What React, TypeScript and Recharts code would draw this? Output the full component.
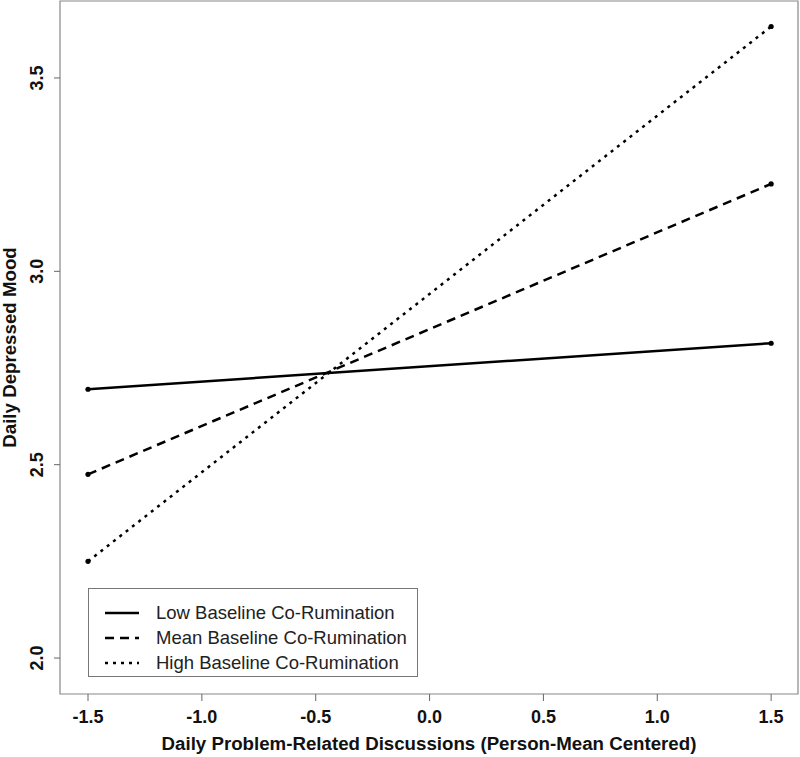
import React from "react";
import {
  LineChart,
  Line,
  XAxis,
  YAxis,
  Legend,
  ReferenceArea,
  Label,
} from "recharts";

const xValues = [-1.5, 1.5];
const lowValues = [2.695, 2.814];
const meanValues = [2.475, 3.226];
const highValues = [2.25, 3.633];

const xTicks = [-1.5, -1.0, -0.5, 0.0, 0.5, 1.0, 1.5];
const yTicks = [2.0, 2.5, 3.0, 3.5];

const seriesNames = [
  "Low Baseline Co-Rumination",
  "Mean Baseline Co-Rumination",
  "High Baseline Co-Rumination",
];

const data = xValues.map((x, i) => ({
  x,
  low: lowValues[i],
  mean: meanValues[i],
  high: highValues[i],
}));

const FONT = "'Liberation Sans', Arial, Helvetica, sans-serif";
const X_DOMAIN: [number, number] = [-1.623, 1.618];
const Y_DOMAIN: [number, number] = [1.907, 3.699];

const dashes = ["", "9 6", "3 5"];

const YTick = (props: any) => {
  const { x, y, payload } = props;
  return (
    <text
      x={x}
      y={y}
      transform={`rotate(-90, ${x}, ${y})`}
      textAnchor="middle"
      fontFamily={FONT}
      fontWeight="bold"
      fontSize={18}
      fill="#111"
    >
      {payload.value.toFixed(1)}
    </text>
  );
};

const LegendBox = () => (
  <div
    style={{
      border: "1px solid #777",
      background: "#fff",
      padding: "11px 0 11px 0",
      fontFamily: FONT,
      fontSize: 18.5,
      color: "#222",
      boxSizing: "border-box",
      height: 89,
    }}
  >
    {seriesNames.map((name, i) => (
      <div
        key={name}
        style={{ display: "flex", alignItems: "center", height: 25 }}
      >
        <svg width={67} height={10} style={{ flex: "none" }}>
          <line
            x1={16}
            x2={50}
            y1={5}
            y2={5}
            stroke="#000"
            strokeWidth={2.5}
            strokeDasharray={dashes[i] || undefined}
          />
        </svg>
        <span>{name}</span>
      </div>
    ))}
  </div>
);

export default function App() {
  return (
    <div style={{ position: "absolute", left: 0, top: 0, background: "#fff" }}>
      <LineChart
        width={800}
        height={757}
        data={data}
        margin={{ top: 1, right: 2, left: 0, bottom: 0 }}
      >
        <XAxis
          dataKey="x"
          type="number"
          domain={X_DOMAIN}
          ticks={xTicks}
          allowDataOverflow
          axisLine={false}
          tickLine={{ stroke: "#666" }}
          tickSize={7}
          tickMargin={9}
          tickFormatter={(v: number) => v.toFixed(1)}
          tick={{
            fontFamily: FONT,
            fontWeight: "bold",
            fontSize: 18,
            fill: "#111",
          }}
          height={63}
        >
          <Label
            content={(p: any) => {
              const vb = p.viewBox;
              return (
                <text
                  x={vb.x + vb.width / 2}
                  y={750}
                  textAnchor="middle"
                  fontFamily={FONT}
                  fontWeight="bold"
                  fontSize={18.7}
                  fill="#111"
                >
                  Daily Problem-Related Discussions (Person-Mean Centered)
                </text>
              );
            }}
          />
        </XAxis>
        <YAxis
          type="number"
          domain={Y_DOMAIN}
          ticks={yTicks}
          allowDataOverflow
          axisLine={false}
          tickLine={{ stroke: "#666" }}
          tickSize={6}
          tickMargin={11}
          tick={<YTick />}
          width={60}
        >
          <Label
            content={(p: any) => {
              const vb = p.viewBox;
              const cx = 15.5;
              const cy = vb.y + vb.height / 2;
              return (
                <text
                  x={cx}
                  y={cy}
                  transform={`rotate(-90, ${cx}, ${cy})`}
                  textAnchor="middle"
                  fontFamily={FONT}
                  fontWeight="bold"
                  fontSize={18.7}
                  fill="#111"
                >
                  Daily Depressed Mood
                </text>
              );
            }}
          />
        </YAxis>
        <ReferenceArea
          x1={X_DOMAIN[0]}
          x2={X_DOMAIN[1]}
          y1={Y_DOMAIN[0]}
          y2={Y_DOMAIN[1]}
          fill="none"
          stroke="#888"
          strokeWidth={1.2}
          fillOpacity={0}
        />
        <Legend
          layout="horizontal"
          verticalAlign="middle"
          content={<LegendBox />}
          wrapperStyle={{ position: "absolute", left: 88, top: 588, width: 330 }}
        />
        {["low", "mean", "high"].map((key, i) => (
          <Line
            key={key}
            dataKey={key}
            name={seriesNames[i]}
            type="linear"
            stroke="#000"
            strokeWidth={2.5}
            strokeDasharray={dashes[i] || undefined}
            dot={{ r: 2.6, fill: "#000", stroke: "none" }}
            activeDot={false}
            isAnimationActive={false}
          />
        ))}
      </LineChart>
    </div>
  );
}
